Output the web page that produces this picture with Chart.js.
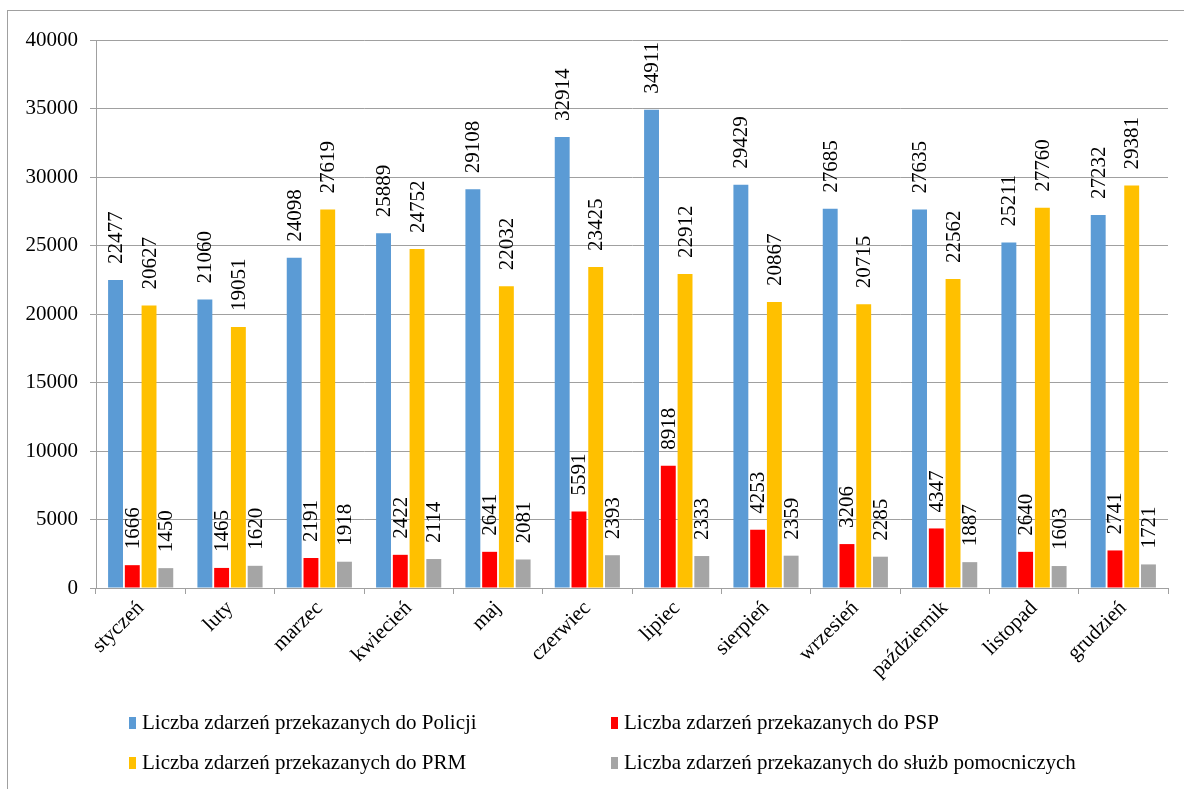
<!DOCTYPE html>
<html>
<head>
<meta charset="utf-8">
<script src="https://cdn.jsdelivr.net/npm/chart.js@4.4.0/dist/chart.umd.min.js"></script>
<style>
    body {margin: 0; background: #fff; overflow: hidden;}
    canvas {display: block;}
</style>
</head>
<body>
<canvas id="eventsChart" width="1184" height="789"></canvas>
<script>
// ═══════════════════ DATA ═══════════════════

const months = ['styczeń', 'luty', 'marzec', 'kwiecień', 'maj', 'czerwiec', 'lipiec', 'sierpień', 'wrzesień', 'październik', 'listopad', 'grudzień'];
const policja = [22477, 21060, 24098, 25889, 29108, 32914, 34911, 29429, 27685, 27635, 25211, 27232];
const psp = [1666, 1465, 2191, 2422, 2641, 5591, 8918, 4253, 3206, 4347, 2640, 2741];
const prm = [20627, 19051, 27619, 24752, 22032, 23425, 22912, 20867, 20715, 22562, 27760, 29381];
const pomocnicze = [1450, 1620, 1918, 2114, 2081, 2393, 2333, 2359, 2285, 1887, 1603, 1721];
const seriesNames = [
    'Liczba zdarzeń przekazanych do Policji',
    'Liczba zdarzeń przekazanych do PSP',
    'Liczba zdarzeń przekazanych do PRM',
    'Liczba zdarzeń przekazanych do służb pomocniczych'
];
const colors = ['#5b9bd5', '#ff0000', '#ffc000', '#a5a5a5'];

const FONT = '"Liberation Serif", "Times New Roman", serif';
const GRID = '#a0a0a0';

// ═══════════════════ PLUGINS ═══════════════════

// outer frame around the whole chart
const framePlugin = {
    id: 'frame',
    beforeDraw(chart) {
        const ctx = chart.ctx;
        ctx.save();
        ctx.fillStyle = '#fff';
        ctx.fillRect(0, 0, chart.width, chart.height);
        ctx.strokeStyle = GRID;
        ctx.lineWidth = 1;
        ctx.strokeRect(7.5, 10.5, chart.width + 20, chart.height + 20);
        ctx.restore();
    }
};

// vertical value labels above each bar
const valueLabels = {
    id: 'valueLabels',
    afterDatasetsDraw(chart) {
        const ctx = chart.ctx;
        ctx.save();
        ctx.font = '21px ' + FONT;
        ctx.fillStyle = '#000';
        ctx.textAlign = 'left';
        ctx.textBaseline = 'middle';
        chart.data.datasets.forEach((ds, i) => {
            chart.getDatasetMeta(i).data.forEach((bar, j) => {
                ctx.save();
                ctx.translate(bar.x, bar.y - 16);
                ctx.rotate(-Math.PI / 2);
                ctx.fillText(String(ds.data[j]), 0, 1);
                ctx.restore();
            });
        });
        ctx.restore();
    }
};

// two-column legend under the axis
const legendGrid = {
    id: 'legendGrid',
    afterDraw(chart) {
        const ctx = chart.ctx;
        ctx.save();
        ctx.font = '21px ' + FONT;
        ctx.textBaseline = 'middle';
        chart.data.datasets.forEach((ds, i) => {
            const x = 129 + (i % 2) * 482;
            const y = 723 + Math.floor(i / 2) * 40;
            ctx.fillStyle = ds.backgroundColor;
            ctx.fillRect(x, y - 6, 7, 12);
            ctx.fillStyle = '#000';
            ctx.fillText(ds.label, x + 13, y);
        });
        ctx.restore();
    }
};

// ═══════════════════ CHART ═══════════════════

const sets = [policja, psp, prm, pomocnicze];

new Chart(document.getElementById('eventsChart'), {
    type: 'bar',
    data: {
        labels: months,
        datasets: sets.map((d, i) => ({
            label: seriesNames[i],
            data: d,
            backgroundColor: colors[i],
            borderWidth: 0,
            categoryPercentage: 0.75,
            barPercentage: 0.89
        }))
    },
    options: {
        responsive: false,
        animation: false,
        layout: {padding: {left: 0, top: 40, right: 16, bottom: 81}},
        plugins: {legend: {display: false}, tooltip: {enabled: false}},
        scales: {
            x: {
                grid: {display: true, drawOnChartArea: false, color: GRID, tickLength: 6},
                border: {color: GRID},
                ticks: {color: '#000', font: {family: FONT, size: 21}, minRotation: 45, maxRotation: 45, padding: 2},
                afterFit(scale) { scale.height = 120; }
            },
            y: {
                min: 0,
                max: 40000,
                grid: {color: GRID, tickLength: 6},
                border: {color: GRID},
                ticks: {stepSize: 5000, color: '#000', font: {family: FONT, size: 21}, padding: 12,
                    callback: v => String(v)},
                afterFit(scale) { scale.width = 96; }
            }
        }
    },
    plugins: [framePlugin, valueLabels, legendGrid]
});
</script>
</body>
</html>
